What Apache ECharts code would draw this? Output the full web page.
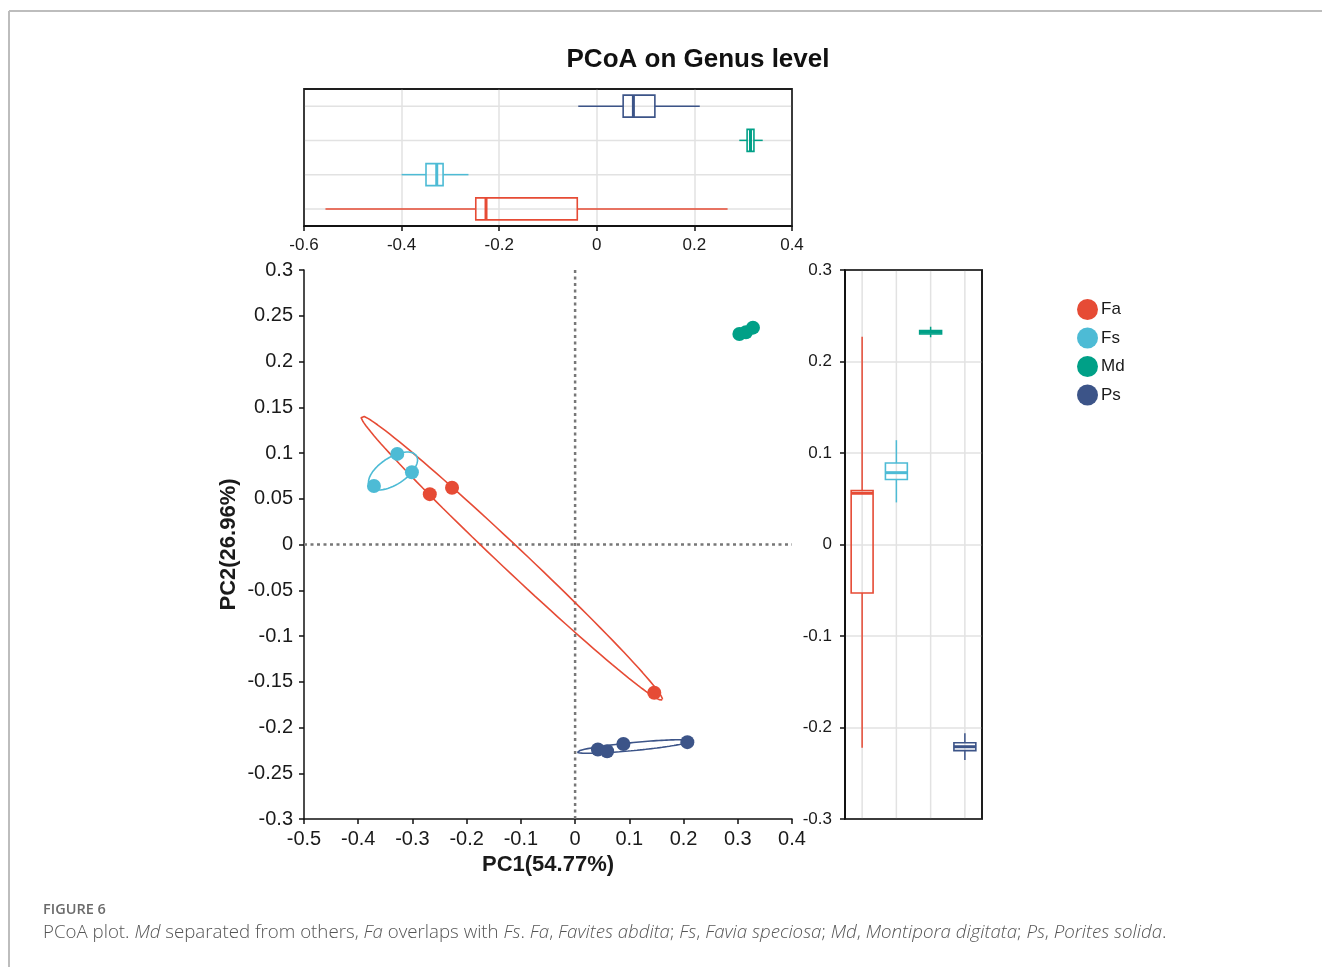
<!DOCTYPE html>
<html><head><meta charset="utf-8">
<script src="https://cdn.jsdelivr.net/npm/echarts@6/dist/echarts.min.js"></script>
<style>html,body{margin:0;padding:0;background:#fff}#c{width:1322px;height:967px}</style>
</head><body><div id="c"></div>
<script>
// ---- data ----
const groups = ['Fa', 'Fs', 'Md', 'Ps'];
const colors = ['#E64B35', '#4DBBD5', '#00A087', '#3C5488'];
const faPoints = [[-0.268, 0.055], [-0.227, 0.062], [0.146, -0.162]];
const fsPoints = [[-0.371, 0.064], [-0.328, 0.099], [-0.301, 0.079]];
const mdPoints = [[0.303, 0.230], [0.315, 0.232], [0.328, 0.237]];
const psPoints = [[0.042, -0.224], [0.059, -0.226], [0.089, -0.218], [0.207, -0.216]];
// ellipse: centre, half major-axis vector, half minor-axis vector (data units)
const faEllipse = { c: [-0.117, -0.0148], a: [0.2777, -0.1552], b: [-0.0152, -0.0095] };
const fsEllipse = { c: [-0.3358, 0.0803], a: [0.0432, 0.0167], b: [0.01365, -0.01235] };
const psEllipse = { c: [0.108, -0.2208], a: [0.1042, 0.0060], b: [0.0007, -0.00435] };
// box stats [min, q1, median, q3, max]
const pc1Box = [
  [-0.556, -0.248, -0.227, -0.040, 0.268],
  [-0.400, -0.350, -0.328, -0.315, -0.263],
  [0.292, 0.308, 0.315, 0.322, 0.340],
  [-0.038, 0.054, 0.075, 0.119, 0.211]
];
const pc2Box = [
  [-0.222, -0.053, 0.056, 0.059, 0.227],
  [0.046, 0.071, 0.0785, 0.089, 0.114],
  [0.2265, 0.230, 0.232, 0.2337, 0.238],
  [-0.2355, -0.2253, -0.221, -0.2166, -0.2063]
];
const pc1Label = 'PC1(54.77%)';
const pc2Label = 'PC2(26.96%)';
const titleText = 'PCoA on Genus level';

// ---- helpers ----
function ellipsePts(e) {
  const out = [];
  for (let i = 0; i <= 120; i++) {
    const t = i / 120 * Math.PI * 2;
    out.push([e.c[0] + Math.cos(t) * e.a[0] + Math.sin(t) * e.b[0],
              e.c[1] + Math.cos(t) * e.a[1] + Math.sin(t) * e.b[1]]);
  }
  return out;
}
function boxRender(horizontal, lo, hi) {
  return function (params, api) {
    const ci = api.value(0);
    const v = [1, 2, 3, 4, 5].map(i => api.value(i));
    const color = colors[ci];
    const band = horizontal ? api.size([0, 1])[1] : api.size([1, 0])[0];
    const bw = band * 0.64;
    const P = val => horizontal ? api.coord([val, ci]) : api.coord([ci, val]);
    const ch = [];
    const g0 = P(lo), g1 = P(hi);
    ch.push({ type: 'line', shape: { x1: g0[0], y1: g0[1], x2: g1[0], y2: g1[1] }, style: { stroke: '#e2e2e2', lineWidth: 1.5 } });
    const pMin = P(v[0]), pQ1 = P(v[1]), pMed = P(v[2]), pQ3 = P(v[3]), pMax = P(v[4]);
    const ls = { stroke: color, lineWidth: 1.5 };
    ch.push({ type: 'line', shape: { x1: pMin[0], y1: pMin[1], x2: pQ1[0], y2: pQ1[1] }, style: ls });
    ch.push({ type: 'line', shape: { x1: pQ3[0], y1: pQ3[1], x2: pMax[0], y2: pMax[1] }, style: ls });
    let rect, med;
    if (horizontal) {
      rect = { x: pQ1[0], y: pQ1[1] - bw / 2, width: pQ3[0] - pQ1[0], height: bw };
      med = { x1: pMed[0], y1: pMed[1] - bw / 2, x2: pMed[0], y2: pMed[1] + bw / 2 };
    } else {
      rect = { x: pQ1[0] - bw / 2, y: pQ3[1], width: bw, height: pQ1[1] - pQ3[1] };
      med = { x1: pMed[0] - bw / 2, y1: pMed[1], x2: pMed[0] + bw / 2, y2: pMed[1] };
    }
    ch.push({ type: 'rect', shape: rect, style: { fill: 'rgba(255,255,255,0)', stroke: color, lineWidth: 1.6 } });
    ch.push({ type: 'line', shape: med, style: { stroke: color, lineWidth: 3 } });
    return { type: 'group', children: ch };
  };
}

const chart = echarts.init(document.getElementById('c'), null, { renderer: 'canvas' });
const txt = '#1a1a1a';
const FONT = '"Liberation Sans", Arial, sans-serif';

const pointSets = [faPoints, fsPoints, mdPoints, psPoints];
const scatterSeries = groups.map((g, i) => ({
  name: g, type: 'scatter', xAxisIndex: 0, yAxisIndex: 0,
  data: pointSets[i], symbolSize: 14, z: 5,
  itemStyle: { color: colors[i], opacity: 1 }
}));
const ellipseDefs = [[faEllipse, 0], [fsEllipse, 1], [psEllipse, 3]];
const ellipseSeries = ellipseDefs.map(([e, i]) => ({
  name: groups[i] + '_ellipse', type: 'line', xAxisIndex: 0, yAxisIndex: 0,
  data: ellipsePts(e), showSymbol: false, symbol: 'none', z: 4, silent: true,
  lineStyle: { color: colors[i], width: 1.6 }
}));

const axisLineStyle = { show: true, onZero: false, lineStyle: { color: '#111', width: 1.5 } };
const tickStyle = { show: true, length: 5, lineStyle: { color: '#111', width: 1.5 } };

const option = {
  animation: false,
  backgroundColor: '#fff',
  textStyle: { fontFamily: FONT },
  legend: {
    data: groups.map(g => ({ name: g, icon: 'circle' })),
    orient: 'vertical', left: 1072, top: 294,
    itemWidth: 21, itemHeight: 21, itemGap: 7.5,
    textStyle: { fontSize: 17, color: txt, fontFamily: FONT, padding: [0, 0, 0, -2] }
  },
  grid: [
    { left: 304, top: 270, width: 488, height: 549, show: false },
    { left: 304, top: 89, width: 488, height: 137, show: true, borderColor: '#111', borderWidth: 1.5, backgroundColor: '#fff' },
    { left: 845, top: 270, width: 137, height: 549, show: true, borderColor: '#111', borderWidth: 1.5, backgroundColor: '#fff' }
  ],
  xAxis: [
    { gridIndex: 0, type: 'value', min: -0.5, max: 0.4, interval: 0.1,
      name: pc1Label, nameLocation: 'middle', nameGap: 34,
      nameTextStyle: { fontSize: 22, fontWeight: 'bold', color: txt, fontFamily: FONT },
      axisLine: axisLineStyle, axisTick: tickStyle,
      axisLabel: { fontSize: 20, color: txt, margin: 10, fontFamily: FONT },
      splitLine: { show: false } },
    { gridIndex: 1, type: 'value', min: -0.6, max: 0.4, interval: 0.2,
      axisLine: axisLineStyle, axisTick: tickStyle,
      axisLabel: { fontSize: 17, color: txt, margin: 11, fontFamily: FONT },
      splitLine: { show: true, lineStyle: { color: '#e2e2e2', width: 1.5 } } },
    { gridIndex: 2, type: 'category', data: groups,
      axisLine: { show: false }, axisTick: { show: false }, axisLabel: { show: false },
      splitLine: { show: false } }
  ],
  yAxis: [
    { gridIndex: 0, type: 'value', min: -0.3, max: 0.3, interval: 0.05,
      name: pc2Label, nameLocation: 'middle', nameGap: 64,
      nameTextStyle: { fontSize: 22, fontWeight: 'bold', color: txt, fontFamily: FONT },
      axisLine: axisLineStyle, axisTick: tickStyle,
      axisLabel: { fontSize: 20, color: txt, margin: 11, fontFamily: FONT },
      splitLine: { show: false } },
    { gridIndex: 1, type: 'category', data: groups,
      axisLine: { show: false }, axisTick: { show: false }, axisLabel: { show: false },
      splitLine: { show: false } },
    { gridIndex: 2, type: 'value', min: -0.3, max: 0.3, interval: 0.1,
      axisLine: axisLineStyle, axisTick: tickStyle,
      axisLabel: { fontSize: 17, color: txt, margin: 13, fontFamily: FONT },
      splitLine: { show: true, lineStyle: { color: '#e2e2e2', width: 1.5 } } }
  ],
  series: [
    { name: 'zeroV', type: 'line', xAxisIndex: 0, yAxisIndex: 0, data: [[0, -0.3], [0, 0.3]],
      showSymbol: false, symbol: 'none', silent: true, z: 2,
      lineStyle: { color: '#777', width: 2.5, type: [3, 3.5] } },
    { name: 'zeroH', type: 'line', xAxisIndex: 0, yAxisIndex: 0, data: [[-0.5, 0], [0.4, 0]],
      showSymbol: false, symbol: 'none', silent: true, z: 2,
      lineStyle: { color: '#777', width: 2.5, type: [3, 3.5] } },
    ...ellipseSeries,
    ...scatterSeries,
    { name: 'pc1box', type: 'custom', xAxisIndex: 1, yAxisIndex: 1, silent: true,
      renderItem: boxRender(true, -0.6, 0.4),
      encode: { x: [1, 2, 3, 4, 5], y: 0 },
      data: pc1Box.map((b, i) => [i, ...b]) },
    { name: 'pc2box', type: 'custom', xAxisIndex: 2, yAxisIndex: 2, silent: true,
      renderItem: boxRender(false, -0.3, 0.3),
      encode: { x: 0, y: [1, 2, 3, 4, 5] },
      data: pc2Box.map((b, i) => [i, ...b]) }
  ],
  graphic: [
    { type: 'line', shape: { x1: 9, y1: 11, x2: 1322, y2: 11 }, style: { stroke: '#bdbdbd', lineWidth: 2 }, silent: true },
    { type: 'line', shape: { x1: 9, y1: 11, x2: 9, y2: 967 }, style: { stroke: '#bdbdbd', lineWidth: 2 }, silent: true },
    { type: 'rect', shape: { x: 304, y: 89, width: 488, height: 137 }, style: { fill: 'none', stroke: '#111', lineWidth: 1.5 }, silent: true, z: 100 },
    { type: 'rect', shape: { x: 845, y: 270, width: 137, height: 549 }, style: { fill: 'none', stroke: '#111', lineWidth: 1.5 }, silent: true, z: 100 },
    { type: 'text', x: 698, y: 60, silent: true,
      style: { text: titleText, font: 'bold 26px "Liberation Sans", Arial, sans-serif', fill: '#111', textAlign: 'center', textVerticalAlign: 'middle' } },
    { type: 'text', x: 43, y: 910, silent: true,
      style: { text: 'FIGURE 6', font: '600 14.5px "Open Sans", sans-serif', fill: '#6b6b6b', textAlign: 'left', textVerticalAlign: 'middle' } },
    { type: 'text', x: 43, y: 933, silent: true,
      style: {
        text: 'PCoA plot. {i|Md} separated from others, {i|Fa} overlaps with {i|Fs}. {i|Fa}, {i|Favites abdita}; {i|Fs}, {i|Favia speciosa}; {i|Md}, {i|Montipora digitata}; {i|Ps}, {i|Porites solida}.',
        font: '300 18.7px "Open Sans", sans-serif', fill: '#555', textAlign: 'left', textVerticalAlign: 'middle',
        rich: { i: { fontStyle: 'italic', fontSize: 18.7, fontFamily: '"Open Sans", sans-serif', fontWeight: 300, fill: '#555', color: '#555' } }
      } }
  ]
};
chart.setOption(option);
</script></body></html>
